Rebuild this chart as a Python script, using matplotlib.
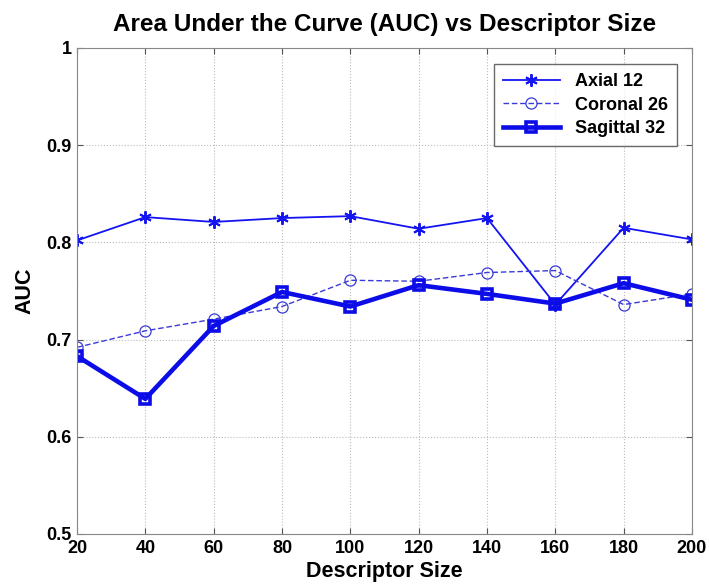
import matplotlib
matplotlib.use("Agg")
import matplotlib.pyplot as plt

# data
descriptor_size = [20, 40, 60, 80, 100, 120, 140, 160, 180, 200]
axial_12 = [0.802, 0.826, 0.821, 0.825, 0.827, 0.814, 0.825, 0.736, 0.815, 0.803]
coronal_26 = [0.692, 0.709, 0.721, 0.734, 0.761, 0.760, 0.769, 0.771, 0.736, 0.747]
sagittal_32 = [0.683, 0.639, 0.714, 0.749, 0.734, 0.756, 0.747, 0.737, 0.758, 0.741]

plt.rcParams['font.family'] = ['Liberation Sans', 'DejaVu Sans']
plt.rcParams['font.weight'] = 'bold'

fig = plt.figure(figsize=(7.09, 5.87), dpi=100)
ax = fig.add_axes([0.1086, 0.0903, 0.8674, 0.828])

ax.plot(descriptor_size, axial_12, color='#1414f0', lw=1.3, marker=(6, 2, 0),
        markersize=9, markeredgewidth=1.4, label='Axial 12')
ax.plot(descriptor_size, coronal_26, color='#3a3ad8', lw=1.0, ls='--', dashes=(4, 2),
        marker='o', markersize=8, markerfacecolor='none', markeredgewidth=0.9,
        label='Coronal 26')
ax.plot(descriptor_size, sagittal_32, color='#0c0ce8', lw=3.3, marker='s',
        markersize=7, markerfacecolor='none', markeredgewidth=2.6, label='Sagittal 32')

ax.set_xlim(20, 200)
ax.set_ylim(0.5, 1.0)
ax.set_xticks(descriptor_size)
ax.set_yticks([0.5, 0.6, 0.7, 0.8, 0.9, 1.0])
ax.set_yticklabels(['0.5', '0.6', '0.7', '0.8', '0.9', '1'])
# box with ticks on all four sides, matlab style
ax.tick_params(labelsize=13, direction='in', length=4, color='#555555',
               top=True, right=True, pad=4)
for lbl in ax.get_xticklabels() + ax.get_yticklabels():
    lbl.set_fontweight('bold')
ax.grid(True, ls=':', color='#bbbbbb', lw=0.8)
for sp in ax.spines.values():
    sp.set_color('#888888')

ax.set_title('Area Under the Curve (AUC) vs Descriptor Size', fontsize=17.5,
             fontweight='bold', pad=12)
ax.set_xlabel('Descriptor Size', fontsize=15.5, fontweight='bold', labelpad=3)
ax.set_ylabel('AUC', fontsize=15.5, fontweight='bold', labelpad=8)

leg = ax.legend(loc='upper right', fontsize=13, frameon=True, fancybox=False,
                edgecolor='#444444', handlelength=3.2, borderpad=0.5,
                labelspacing=0.35, bbox_to_anchor=(0.99, 0.985))
leg.get_frame().set_linewidth(1.0)
for t in leg.get_texts():
    t.set_fontweight('bold')

fig.savefig('out.png', dpi=100, facecolor='white')
